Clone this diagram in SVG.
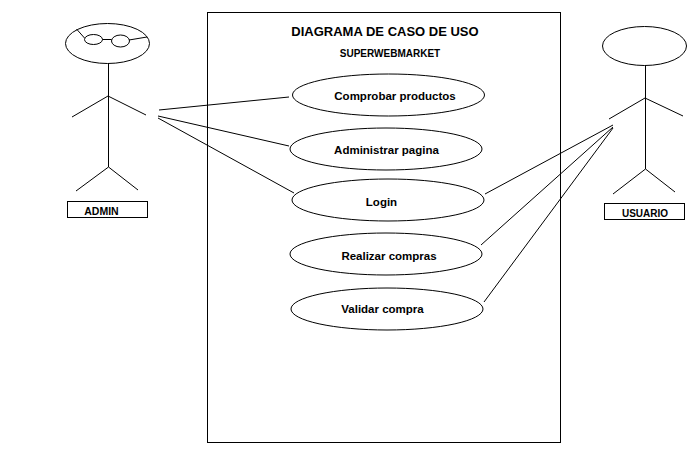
<svg xmlns="http://www.w3.org/2000/svg" width="695" height="464" viewBox="0 0 695 464">
<style>
.s{fill:none;stroke:#000;stroke-width:1}
.e{fill:#fff;stroke:#000;stroke-width:1}
text{font-family:"Liberation Sans",Arial,sans-serif;font-weight:bold;font-size:11.5px;fill:#000;text-anchor:middle}
.t{font-size:13px}
.l{font-size:10px}
</style>
<rect width="695" height="464" fill="#fff"/>
<g id="system"><rect class="s" x="207.5" y="12.5" width="353" height="430"/>
<text class="t" x="385" y="36">DIAGRAMA DE CASO DE USO</text>
<text class="l" x="390" y="57">SUPERWEBMARKET</text></g>
<g id="connectors" class="s">
<path d="M159 110L289 97M158 116L289 146M158 118L294 193"/>
<path d="M613 125L485 194M613 127L481 245M613 128L484 302"/>
</g>
<g id="admin">
<ellipse class="e" cx="107.5" cy="43.5" rx="42" ry="20"/>
<ellipse class="s" cx="93.5" cy="39.500" rx="9" ry="5"/>
<ellipse class="s" cx="120.5" cy="41" rx="9" ry="6"/>
<path class="s" d="M102.5 39.5H111.5M84.5 38L76.5 29M129 40L147 37M108.5 63V167M108 96L72 117M108 96L146 115M108.5 167L76 191M108.5 167L138 190"/>
<rect class="s" x="67.5" y="201.5" width="80" height="16"/>
<text style="font-size:10.5px" x="101.500" y="215">ADMIN</text>
</g>
<g id="usuario">
<ellipse class="e" cx="644.5" cy="46" rx="42" ry="19.5"/>
<path class="s" d="M645.5 65V169M645 98L609 119M645 98L683 116M645.5 169L613 194M645.5 169L675 192"/>
<rect class="s" x="604.5" y="203.5" width="80" height="16"/>
<text class="l" x="645" y="217">USUARIO</text>
</g>
<g id="uc1"><ellipse class="e" cx="388.5" cy="95" rx="96" ry="21"/><text x="395" y="100">Comprobar productos</text></g>
<g id="uc2"><ellipse class="e" cx="386" cy="149" rx="96" ry="21"/><text x="386.5" y="154">Administrar pagina</text></g>
<g id="uc3"><ellipse class="e" cx="388" cy="200" rx="96" ry="21"/><text x="381.5" y="206">Login</text></g>
<g id="uc4"><ellipse class="e" cx="386" cy="254" rx="96" ry="21"/><text x="389" y="260">Realizar compras</text></g>
<g id="uc5"><ellipse class="e" cx="387" cy="309" rx="96" ry="21"/><text x="382.5" y="313">Validar compra</text></g>
</svg>
